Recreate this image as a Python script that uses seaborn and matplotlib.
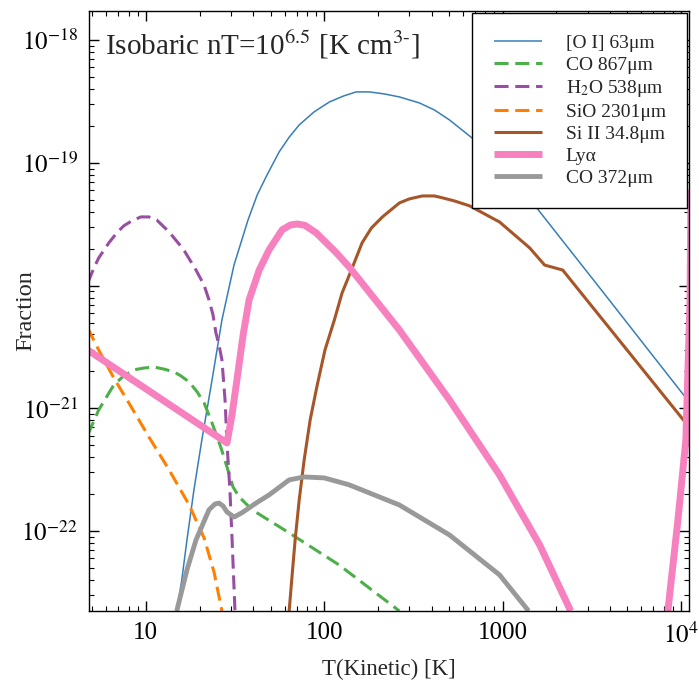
import numpy as np
import pandas as pd
import matplotlib
matplotlib.use("Agg")
import matplotlib.pyplot as plt
import seaborn as sns

# ---- data ----
oi_T = [14.9, 15.9, 17.0, 18.6, 20.6, 23.5, 26.7, 31.2, 37.4, 42.1, 47.8, 55.9, 63.6, 72.4, 87.9,
        107, 129, 151, 179, 217, 264, 342, 415, 504, 696, 962, 1419, 2089, 3509, 6699, 11100]
oi_F = [2.23e-23, 3.99e-23, 8.45e-23, 2.16e-22, 5.52e-22, 1.70e-21, 5.25e-21, 1.47e-20, 3.43e-20,
        5.48e-20, 7.98e-20, 1.23e-19, 1.62e-19, 2.04e-19, 2.61e-19, 3.14e-19, 3.52e-19, 3.79e-19,
        3.79e-19, 3.65e-19, 3.45e-19, 3.08e-19, 2.70e-19, 2.24e-19, 1.54e-19, 1.0e-19, 5.09e-20,
        2.49e-20, 9.57e-21, 2.88e-21, 1.13e-21]

co867_T = [4.72, 5.44, 6.61, 7.52, 8.57, 9.75, 11.1, 12.6, 14.4, 15.7, 17.5, 19.4, 21.2, 23.5, 26.4,
           28.5, 30.8, 33.3, 39.4, 63.6, 121, 264]
co867_F = [6.07e-22, 9.7e-22, 1.55e-21, 1.84e-21, 2.06e-21, 2.13e-21, 2.17e-21, 2.09e-21, 1.98e-21,
           1.84e-21, 1.64e-21, 1.36e-21, 1.11e-21, 7.6e-22, 4.75e-22, 3.33e-22, 2.29e-22, 1.90e-22,
           1.49e-22, 9.66e-23, 5.30e-23, 2.23e-23]

h2o_T = [4.72, 5.11, 5.44, 6.20, 6.87, 7.52, 8.34, 9.37, 10.4, 11.5, 13.5, 16.3, 19.1, 21.2, 22.6,
         23.8, 24.7, 25.7, 26.7, 27.8, 28.5, 29.6, 30.4, 31.6]
h2o_F = [1.05e-20, 1.39e-20, 1.68e-20, 2.23e-20, 2.69e-20, 3.07e-20, 3.37e-20, 3.63e-20, 3.63e-20,
         3.43e-20, 2.74e-20, 1.96e-20, 1.34e-20, 1.01e-20, 7.64e-21, 5.77e-21, 4.12e-21, 3.29e-21,
         2.48e-21, 1.17e-21, 5.22e-22, 2.16e-22, 8.95e-23, 2.23e-23]

sio_T = [4.72, 5.44, 6.61, 8.02, 10.4, 13.5, 17.5, 21.2, 24.1, 26.7]
sio_F = [4.52e-21, 2.99e-21, 1.77e-21, 1.11e-21, 5.85e-22, 3.15e-22, 1.63e-22, 8.79e-23, 4.65e-23, 2.23e-23]

siii_T = [63.6, 66.1, 68.7, 72.4, 77.2, 83.4, 91.4, 101, 114, 126, 142, 163, 184, 212, 264, 300,
          355, 415, 461, 537, 653, 962, 1419, 1722, 2173, 11100]
siii_F = [2.23e-23, 4.39e-23, 8.45e-23, 1.79e-22, 3.80e-22, 8.04e-22, 1.55e-21, 2.99e-21, 5.25e-21,
          8.73e-21, 1.34e-20, 2.23e-20, 2.95e-20, 3.63e-20, 4.72e-20, 5.09e-20, 5.38e-20, 5.38e-20,
          5.19e-20, 4.90e-20, 4.47e-20, 3.30e-20, 2.03e-20, 1.47e-20, 1.34e-20, 7.05e-22]

lya_T = [4.72, 28.5, 30.4, 32.4, 35.1, 37.9, 43.2, 49.1, 58.1, 64.6, 70.5, 78.0, 90.2, 117, 138,
         264, 504, 962, 1614, 2410]
lya_F = [2.99e-21, 5.22e-22, 8.83e-22, 1.70e-21, 3.96e-21, 7.64e-21, 1.34e-20, 1.96e-20, 2.85e-20,
         3.12e-20, 3.18e-20, 3.10e-20, 2.69e-20, 1.85e-20, 1.42e-20, 4.35e-21, 1.17e-21, 2.86e-22,
         7.71e-23, 2.23e-23]
lya_hot_T = [8450, 9620, 10660, 11250, 11380]
lya_hot_F = [2.23e-23, 1.23e-22, 5.52e-22, 7.64e-21, 6.03e-20]

co372_T = [14.9, 17.0, 19.1, 22.6, 24.4, 25.7, 27.1, 28.5, 31.2, 34.6, 41.5, 49.1, 63.6, 77.2, 100,
           138, 264, 504, 962, 1400]
co372_F = [2.23e-23, 4.82e-23, 8.45e-23, 1.49e-22, 1.66e-22, 1.69e-22, 1.60e-22, 1.43e-22, 1.30e-22,
           1.41e-22, 1.69e-22, 1.97e-22, 2.61e-22, 2.76e-22, 2.71e-22, 2.38e-22, 1.63e-22, 9.29e-23,
           4.39e-23, 2.23e-23]

labels = ["[O I] 63\u03bcm", "CO 867\u03bcm", "H$_2$O 538\u03bcm", "SiO 2301\u03bcm",
          "Si II 34.8\u03bcm", "Ly\u03b1", "CO 372\u03bcm"]
x_ticks = [10, 100, 1000, 10000]
x_ticklabels = ["10", "100", "1000", "$10^4$"]
y_ticks = [1e-22, 1e-21, 1e-20, 1e-19, 1e-18]
y_ticklabels = ["$10^{-22}$", "$10^{-21}$", "", "$10^{-19}$", "$10^{-18}$"]

# ---- style ----
sns.set_style("ticks")
plt.rcParams["font.family"] = ["Liberation Serif", "DejaVu Serif", "DejaVu Sans"]
plt.rcParams["mathtext.fontset"] = "stix"

colors = ["#377eb8", "#4daf4a", "#984ea3", "#ff7f00", "#a65628", "#f781bf", "#999999"]

fig = plt.figure(figsize=(6.99, 6.81), dpi=100)
ax = fig.add_axes([89 / 699, 1 - 611 / 681, 600 / 699, 600 / 681])

def draw(T, F, label, color, lw, dashed=False):
    df = pd.DataFrame({"T": T, "F": F})
    sns.lineplot(data=df, x="T", y="F", ax=ax, color=color, lw=lw, sort=False,
                 label=label, linestyle="--" if dashed else "-")
    line = ax.lines[-1]
    if dashed:
        line.set_dashes((4.6, 2.2))
    else:
        line.set_solid_capstyle("butt")
    line.set_solid_joinstyle("round")
    return line

handles = []
handles.append(draw(oi_T, oi_F, labels[0], colors[0], 1.1))
handles.append(draw(co867_T, co867_F, labels[1], colors[1], 2.2, dashed=True))
handles.append(draw(h2o_T, h2o_F, labels[2], colors[2], 2.2, dashed=True))
handles.append(draw(sio_T, sio_F, labels[3], colors[3], 2.2, dashed=True))
handles.append(draw(siii_T, siii_F, labels[4], colors[4], 2.2))
handles.append(draw(lya_T, lya_F, labels[5], colors[5], 5.0))
draw(lya_hot_T, lya_hot_F, "_nolegend_", colors[5], 5.0)
handles.append(draw(co372_T, co372_F, labels[6], colors[6], 3.5))

ax.set_xscale("log")
ax.set_yscale("log")
ax.set_xlim(4.8, 1.11e4)
ax.set_ylim(2.23e-23, 1.73e-18)
ax.set_xticks(x_ticks)
ax.set_xticklabels(x_ticklabels)
ax.set_yticks(y_ticks)
ax.set_yticklabels(y_ticklabels)
ax.tick_params(which="both", top=True, right=True, direction="in", colors="black")
ax.tick_params(which="major", length=7, width=1, labelsize=18, pad=8)
ax.tick_params(which="minor", length=3.5, width=0.8)
for s in ax.spines.values():
    s.set_color("black")
    s.set_linewidth(1.0)

ax.set_xlabel("T(Kinetic) [K]", fontsize=16.5, labelpad=8)
ax.set_ylabel("Fraction", fontsize=17.5)
ax.yaxis.set_label_coords(-0.088, 0.5)

ax.text(0.027, 0.943, r"Isobaric nT=10$^{6.5}$ [K cm$^{3\text{-}}$]", transform=ax.transAxes,
        fontsize=21, va="center", ha="left")

leg = ax.legend(handles=handles, labels=labels, loc="upper right", fontsize=14, frameon=True,
                fancybox=False, edgecolor="black", framealpha=1, handlelength=2.5,
                handletextpad=1.2, labelspacing=0.22, borderaxespad=0.1, borderpad=1.1)
leg.get_frame().set_linewidth(1.0)

fig.savefig("out.png", dpi=100)
